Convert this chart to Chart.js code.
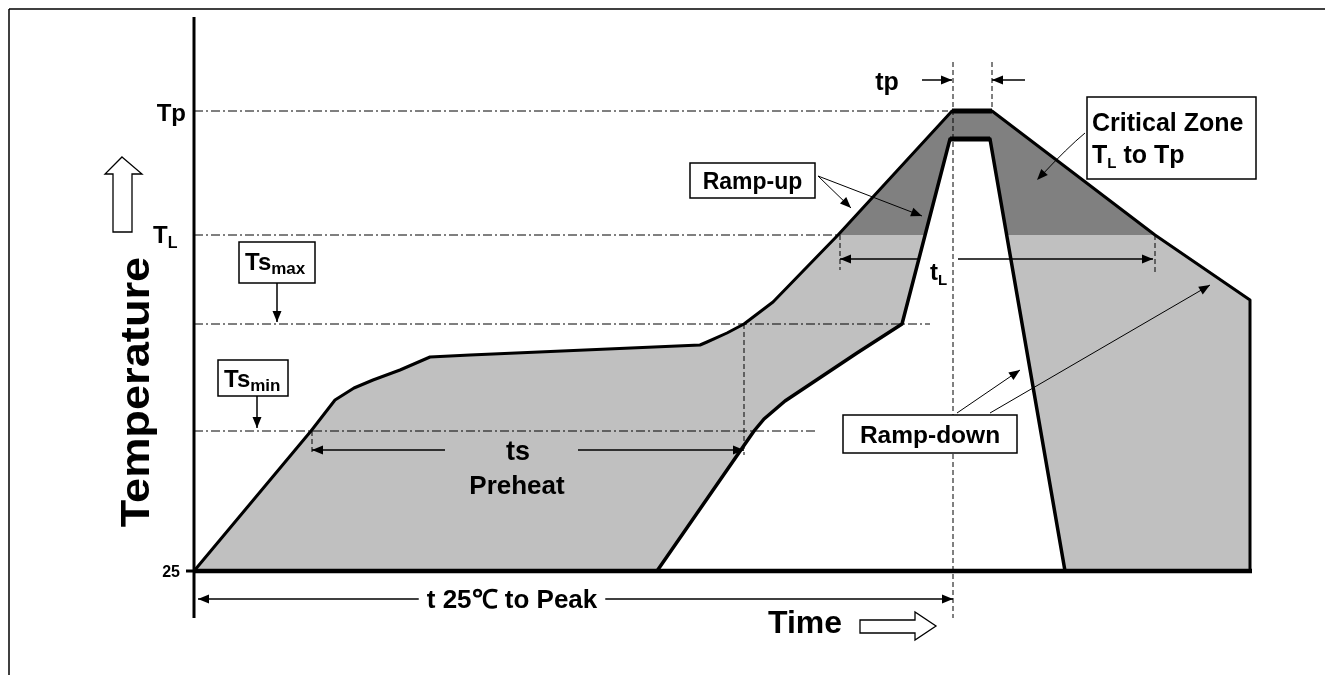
<!DOCTYPE html>
<html><head><meta charset="utf-8">
<script src="https://cdn.jsdelivr.net/npm/chart.js@4.4.1/dist/chart.umd.min.js"></script>
<style>html,body{margin:0;padding:0;background:#fff;overflow:hidden}canvas{display:block}</style>
</head><body>
<canvas id="c" width="1325" height="675"></canvas>
<script>
// ---- data (time units along x, temperature units along y; 25 = baseline 0) ----
const xRange = [-194, 1131];
const yRange = [-104, 571];
const levelLabels = ['25', 'Tsmin', 'Tsmax', 'TL', 'Tp'];
const levelValues = [0, 140, 247, 336, 460];
const upperTime = [0, 117, 141, 160, 179, 206, 236, 276, 506, 513, 533, 550, 579, 644, 758, 798, 961, 1056, 1056];
const upperTemp = [0, 140, 171, 183, 191, 201, 214, 216, 226, 229, 238, 247, 269, 336, 460, 460, 336, 271, 0];
const innerTime = [463, 560, 570, 591, 663, 708, 756, 796, 871];
const innerTemp = [0, 140, 152, 170, 218, 247, 432, 432, 0];
const criticalTime = [644, 758, 798, 961];
const criticalTemp = [336, 460, 460, 336];

const pts = (xs, ys) => xs.map((x, i) => ({x, y: ys[i]}));
const FONT = '"Liberation Sans", Arial, sans-serif';

const drawings = {
  id: 'drawings',
  afterDatasetsDraw(chart) {
    const ctx = chart.ctx;
    const X = v => chart.scales.x.getPixelForValue(v);
    const Y = v => chart.scales.y.getPixelForValue(v);
    const lv = name => levelValues[levelLabels.indexOf(name)];
    ctx.save();
    function line(x1, y1, x2, y2, w, dash) {
      ctx.beginPath();
      ctx.setLineDash(dash || []);
      ctx.lineWidth = w; ctx.strokeStyle = '#000';
      ctx.moveTo(X(x1), Y(y1)); ctx.lineTo(X(x2), Y(y2)); ctx.stroke();
      ctx.setLineDash([]);
    }
    function head(x1, y1, x2, y2, len, hw) {
      const px2 = X(x2), py2 = Y(y2);
      const a = Math.atan2(py2 - Y(y1), px2 - X(x1));
      ctx.beginPath();
      ctx.moveTo(px2, py2);
      ctx.lineTo(px2 - len * Math.cos(a) + hw * Math.sin(a), py2 - len * Math.sin(a) - hw * Math.cos(a));
      ctx.lineTo(px2 - len * Math.cos(a) - hw * Math.sin(a), py2 - len * Math.sin(a) + hw * Math.cos(a));
      ctx.closePath(); ctx.fillStyle = '#000'; ctx.fill();
    }
    function arrow(x1, y1, x2, y2, w) {
      line(x1, y1, x2, y2, w || 1.5);
      head(x1, y1, x2, y2, 11, 4.5);
    }
    function box(x1, y1, x2, y2) {
      ctx.fillStyle = '#fff';
      ctx.fillRect(X(x1), Y(y1), X(x2) - X(x1), Y(y2) - Y(y1));
      ctx.lineWidth = 1.5; ctx.strokeStyle = '#000';
      ctx.strokeRect(X(x1), Y(y1), X(x2) - X(x1), Y(y2) - Y(y1));
    }
    function rich(parts, x, y, align) {
      let w = 0;
      parts.forEach(p => { ctx.font = 'bold ' + p[1] + 'px ' + FONT; w += ctx.measureText(p[0]).width; });
      let cx = X(x);
      if (align === 'center') cx -= w / 2; else if (align === 'right') cx -= w;
      ctx.textBaseline = 'alphabetic'; ctx.textAlign = 'left'; ctx.fillStyle = '#000';
      parts.forEach(p => {
        ctx.font = 'bold ' + p[1] + 'px ' + FONT;
        ctx.fillText(p[0], cx, Y(y) + (p[2] || 0));
        cx += ctx.measureText(p[0]).width;
      });
      return w;
    }

    // frame
    line(-185, 562, 1131, 562, 1.5);
    line(-185, 562, -185, -104, 1.5);

    // horizontal dash-dot guides
    const dd = [9, 3, 2, 3];
    line(0, lv('Tp'), 754, lv('Tp'), 1, dd);
    line(0, lv('TL'), 644, lv('TL'), 1, dd);
    line(0, lv('Tsmax'), 736, lv('Tsmax'), 1, dd);
    line(0, lv('Tsmin'), 624, lv('Tsmin'), 1, dd);

    // vertical dashed guides
    const vd = [5, 3];
    line(759, 509, 759, -47, 1, vd);
    line(798, 509, 798, lv('Tp'), 1, vd);
    line(550, lv('Tsmax'), 550, 116, 1, vd);
    line(118, lv('Tsmin'), 118, 116, 1, vd);
    line(646, lv('TL'), 646, 301, 1, vd);
    line(961, lv('TL'), 961, 298, 1, vd);

    // peak plateaus drawn heavier
    line(758, 460, 798, 460, 5);
    line(756, 432, 796, 432, 5);

    // axes
    line(0, 554, 0, -47, 3);
    line(0, 0, 1058, 0, 4.5);
    line(-8, 0, 0, 0, 3);

    // tick labels
    rich([['Tp', 24]], -8, 450, 'right');
    rich([['T', 24], ['L', 16, 5]], -41, 328, 'left');
    rich([['25', 16]], -14, -6, 'right');

    // Temperature label (rotated) + hollow up arrow
    ctx.save();
    ctx.translate(X(-45), Y(179));
    ctx.rotate(-Math.PI / 2);
    ctx.scale(1.13, 1);
    ctx.font = 'bold 40px ' + FONT; ctx.textAlign = 'center'; ctx.textBaseline = 'alphabetic';
    ctx.fillStyle = '#000';
    ctx.fillText('Temperature', 0, 0);
    ctx.restore();
    const up = [[-72, 414], [-52, 397], [-62, 397], [-62, 339], [-81, 339], [-81, 397], [-89, 397]];
    ctx.beginPath();
    up.forEach((p, i) => i ? ctx.lineTo(X(p[0]), Y(p[1])) : ctx.moveTo(X(p[0]), Y(p[1])));
    ctx.closePath(); ctx.fillStyle = '#fff'; ctx.fill(); ctx.lineWidth = 1.3; ctx.strokeStyle = '#000'; ctx.stroke();

    // Time label + hollow right arrow
    rich([['Time', 32]], 574, -62, 'left');
    const ra = [[666, -49], [721, -49], [721, -41], [742, -55], [721, -69], [721, -62], [666, -62]];
    ctx.beginPath();
    ra.forEach((p, i) => i ? ctx.lineTo(X(p[0]), Y(p[1])) : ctx.moveTo(X(p[0]), Y(p[1])));
    ctx.closePath(); ctx.fillStyle = '#fff'; ctx.fill(); ctx.lineWidth = 1.3; ctx.strokeStyle = '#000'; ctx.stroke();

    // t 25C to Peak
    arrow(380, -28, 4, -28);
    arrow(380, -28, 759, -28);
    ctx.font = 'bold 26px ' + FONT;
    const tw = ctx.measureText('t 25\u2103 to Peak').width;
    ctx.fillStyle = '#fff';
    ctx.fillRect(X(318) - tw / 2 - 8, Y(-28) - 14, tw + 16, 28);
    rich([['t 25\u2103 to Peak', 26]], 318, -37, 'center');

    // ts / Preheat
    arrow(251, 121, 118, 121);
    arrow(384, 121, 550, 121);
    rich([['ts', 27]], 324, 111, 'center');
    rich([['Preheat', 26]], 323, 77, 'center');

    // tp
    arrow(728, 491, 758, 491);
    arrow(831, 491, 798, 491);
    rich([['tp', 25]], 693, 481, 'center');

    // tL
    arrow(724, 312, 646, 312);
    arrow(764, 312, 959, 312);
    rich([['t', 24], ['L', 15, 5]], 736, 291, 'left');

    // Ts max / Ts min boxes
    box(45, 329, 121, 288);
    rich([['Ts', 24], ['max', 17, 4]], 51, 301, 'left');
    arrow(83, 288, 83, 249);
    box(24, 211, 94, 175);
    rich([['Ts', 24], ['min', 17, 4]], 30, 184, 'left');
    arrow(63, 175, 63, 143);

    // Ramp-up
    box(496, 408, 621, 373);
    rich([['Ramp-up', 23]], 558.5, 382, 'center');
    arrow(624, 395, 657, 363, 1);
    arrow(624, 395, 728, 355, 1);

    // Critical Zone
    box(893, 474, 1062, 392);
    rich([['Critical Zone', 25]], 898, 440, 'left');
    rich([['T', 25], ['L', 15, 5], [' to Tp', 25]], 898, 408, 'left');
    ctx.beginPath(); ctx.lineWidth = 1; ctx.strokeStyle = '#000';
    ctx.moveTo(X(891), Y(438)); ctx.quadraticCurveTo(X(874), Y(424), X(846), Y(394)); ctx.stroke();
    head(874, 424, 843, 391, 11, 4.5);

    // Ramp-down
    arrow(763, 158, 826, 201, 1);
    arrow(796, 158, 1016, 286, 1);
    box(649, 156, 823, 118);
    rich([['Ramp-down', 24.5]], 736, 128, 'center');

    ctx.restore();
  }
};

new Chart(document.getElementById('c'), {
  type: 'line',
  data: {
    datasets: [
      {data: pts(innerTime, innerTemp), borderColor: '#000', borderWidth: 3.5, fill: 'origin',
       backgroundColor: '#fff', pointRadius: 0, borderJoinStyle: 'round'},
      {data: pts(criticalTime, criticalTemp), borderColor: 'rgba(0,0,0,0)', borderWidth: 0,
       fill: {value: levelValues[3]}, backgroundColor: '#808080', pointRadius: 0},
      {data: pts(upperTime, upperTemp), borderColor: '#000', borderWidth: 3, fill: 'origin',
       backgroundColor: '#c0c0c0', pointRadius: 0, borderJoinStyle: 'round'}
    ]
  },
  options: {
    responsive: false, animation: false, devicePixelRatio: 1,
    layout: {padding: 0},
    elements: {line: {tension: 0}, point: {radius: 0}},
    plugins: {legend: {display: false}, tooltip: {enabled: false},
      filler: {drawTime: 'beforeDatasetsDraw', propagate: false}},
    scales: {
      x: {type: 'linear', min: xRange[0], max: xRange[1], display: false},
      y: {type: 'linear', min: yRange[0], max: yRange[1], display: false}
    }
  },
  plugins: [drawings]
});
</script>
</body></html>
